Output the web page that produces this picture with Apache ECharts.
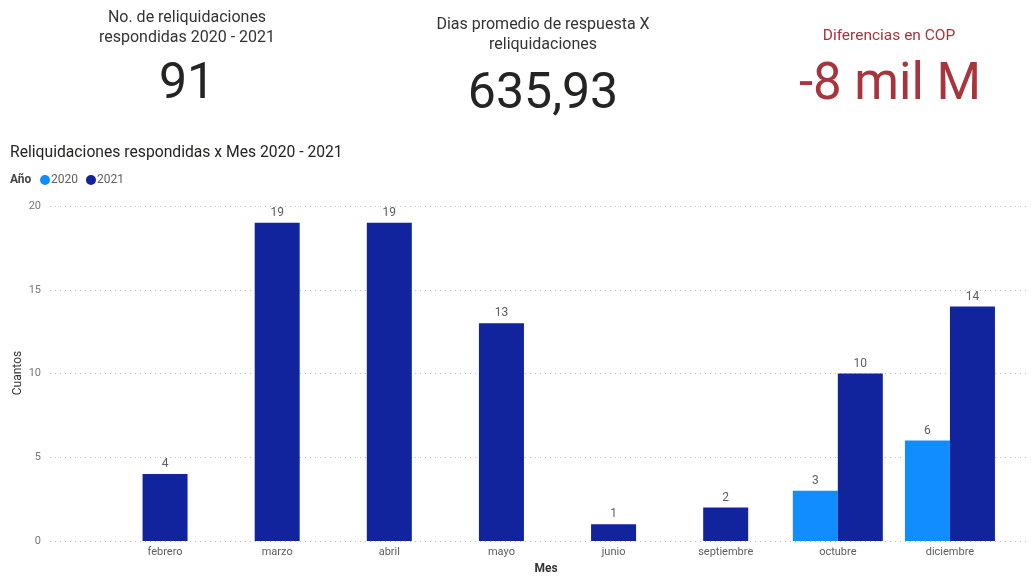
<!DOCTYPE html>
<html><head><meta charset="utf-8">
<script src="https://cdn.jsdelivr.net/npm/echarts@6/dist/echarts.min.js"></script>
<style>html,body{margin:0;padding:0;background:#fff}#c{width:1034px;height:576px}</style>
</head><body><div id="c"></div>
<script>
var months = ['febrero','marzo','abril','mayo','junio','septiembre','octubre','diciembre'];
var v2020 = [null,null,null,null,null,null,3,6];
var v2021 = [4,19,19,13,1,2,10,14];
var yTicks = [0,5,10,15,20];
var kpiCount = '91';
var kpiDays = '635,93';
var kpiDiff = '-8 mil M';

// 2021 bars: centred when no 2020 bar exists, paired otherwise
var solo2021 = v2021.map(function(v,i){ return v2020[i]==null ? v : null; });
var pair2021 = v2021.map(function(v,i){ return v2020[i]!=null ? v : null; });

var C20 = '#118DFF', C21 = '#12239E', RED = '#A8343C';
var FONT = 'Roboto, "Noto Sans", sans-serif';
var lbl = {show:true, position:'top', distance:4, color:'#605E5C', fontSize:12, fontFamily:FONT};

var chart = echarts.init(document.getElementById('c'), null, {renderer:'canvas'});
chart.setOption({
  animation:false,
  textStyle:{fontFamily:FONT},
  title:[
    {text:'No. de reliquidaciones\nrespondidas 2020 - 2021', left:187, top:8, textAlign:'center', padding:0,
     textStyle:{fontSize:16, fontWeight:'normal', color:'#333', lineHeight:20, fontFamily:FONT}},
    {text:kpiCount, left:187, top:60, textAlign:'center', padding:0,
     textStyle:{fontSize:50, fontWeight:'normal', color:'#252423', fontFamily:FONT}},
    {text:'Dias promedio de respuesta X\nreliquidaciones', left:543, top:15, textAlign:'center', padding:0,
     textStyle:{fontSize:16, fontWeight:'normal', color:'#333', lineHeight:20, fontFamily:FONT}},
    {text:kpiDays, left:543, top:70, textAlign:'center', padding:0,
     textStyle:{fontSize:50, fontWeight:'normal', color:'#252423', fontFamily:FONT}},
    {text:'Diferencias en COP', left:889, top:28, textAlign:'center', padding:0,
     textStyle:{fontSize:15.5, fontWeight:'normal', color:RED, fontFamily:FONT}},
    {text:kpiDiff, left:890, top:61, textAlign:'center', padding:0,
     textStyle:{fontSize:51, fontWeight:'normal', color:RED, fontFamily:FONT}},
    {text:'Reliquidaciones respondidas x Mes 2020 - 2021', left:10, top:145, padding:0,
     textStyle:{fontSize:15.7, fontWeight:'normal', color:'#252423', fontFamily:FONT}},
    {text:'Año', left:10, top:174, padding:0,
     textStyle:{fontSize:12, fontWeight:'bold', color:'#444', fontFamily:FONT}},
    {text:'Mes', left:546, top:563, textAlign:'center', padding:0,
     textStyle:{fontSize:12, fontWeight:'bold', color:'#333', fontFamily:FONT}}
  ],
  graphic:[
    {type:'text', x:18, y:373, rotation:Math.PI/2,
     style:{text:'Cuantos', fontSize:12, fill:'#333', fontFamily:FONT, align:'center', verticalAlign:'middle'}}
  ],
  legend:{data:['2020','2021'], left:40, top:174, padding:0, icon:'circle', itemWidth:10, itemHeight:10,
    itemGap:8, textStyle:{fontSize:12, color:'#605E5C', padding:[0,0,0,-4]}},
  grid:[
    {left:50, right:4, top:206, bottom:35, outerBoundsMode:'none', containLabel:false},
    {left:109, right:28, top:206, bottom:35, outerBoundsMode:'none', containLabel:false}
  ],
  xAxis:[
    {type:'value', gridIndex:0, min:0, max:1,
     axisLine:{show:false}, axisTick:{show:false}, axisLabel:{show:false}, splitLine:{show:false}},
    {type:'category', gridIndex:1, data:months, axisLine:{show:false}, axisTick:{show:false},
     axisLabel:{color:'#605E5C', fontSize:11, margin:6}},
    {type:'category', gridIndex:1, data:months, show:false}
  ],
  yAxis:[
    {type:'value', gridIndex:0, min:0, max:20, interval:5,
     axisLine:{show:false}, axisTick:{show:false},
     axisLabel:{color:'#777', fontSize:11, margin:9, formatter:function(v){return yTicks.indexOf(v)>=0?String(v):'';}},
     splitLine:{lineStyle:{type:[1,4], color:'#bbb', width:1}}},
    {type:'value', gridIndex:1, min:0, max:20, interval:5, show:false, splitLine:{show:false}}
  ],
  series:[
    {name:'2020', type:'bar', xAxisIndex:1, yAxisIndex:1, data:v2020, barWidth:45, barGap:'0%',
     itemStyle:{color:C20}, label:lbl},
    {name:'2021', type:'bar', xAxisIndex:1, yAxisIndex:1, data:pair2021, barWidth:45, barGap:'0%',
     itemStyle:{color:C21}, label:lbl},
    {name:'2021', type:'bar', xAxisIndex:2, yAxisIndex:1, data:solo2021, barWidth:45,
     itemStyle:{color:C21}, label:lbl}
  ]
});
</script></body></html>
